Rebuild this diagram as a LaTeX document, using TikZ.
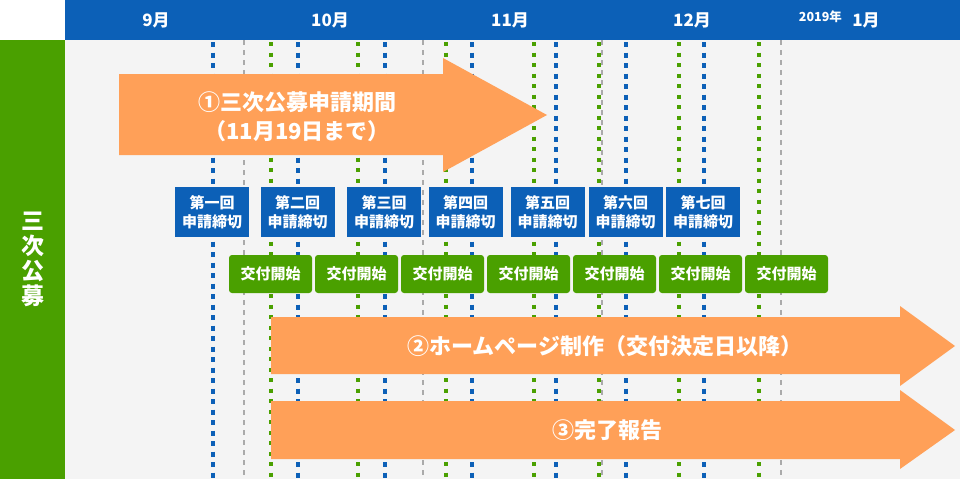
\documentclass[tikz,border=0pt]{standalone}
\usepackage{fontspec}
\newfontfamily\jp{Noto Sans CJK JP}
\usetikzlibrary{positioning}
\definecolor{hdblue}{RGB}{12,96,183}
\definecolor{stgreen}{RGB}{74,160,0}
\definecolor{arorange}{RGB}{255,160,88}
\definecolor{bggray}{RGB}{244,244,244}
\definecolor{lngray}{RGB}{170,170,170}
\tikzset{
  month/.style={text=white, inner sep=0pt, font=\jp\bfseries\fontsize{17}{20}\selectfont},
  deadline/.style={fill=hdblue, text=white, minimum width=74pt, minimum height=50pt, inner sep=0pt, align=center, font=\jp\bfseries\fontsize{15}{19}\selectfont},
  kofu/.style={fill=stgreen, text=white, rounded corners=3pt, minimum width=83pt, minimum height=38pt, inner sep=0pt, font=\jp\bfseries\fontsize{15}{18}\selectfont},
  bigarrow/.style={fill=arorange},
  arrowtext/.style={text=white, align=center, inner sep=0pt, font=\jp\bfseries\fontsize{22}{29}\selectfont},
  bluedots/.style={draw=hdblue, line width=4pt, dash pattern=on 5pt off 5.5pt},
  greendots/.style={draw=stgreen, line width=4pt, dash pattern=on 4pt off 6.5pt},
  monthline/.style={draw=lngray, line width=1.3pt, dash pattern=on 5pt off 5pt}
}
\begin{document}
\begin{tikzpicture}[x=1pt, y=-1pt]
\useasboundingbox (0,0) rectangle (960,479);
\fill[bggray] (65,40) rectangle (960,479);
\fill[hdblue] (65,0) rectangle (960,40);
\fill[stgreen] (0,40) rectangle (65,479);

\node[month] (m9) at (156,20) {9月};
\node[month] (m10) at (330,20) {10月};
\node[month] (m11) at (510,20) {11月};
\node[month] (m12) at (692,20) {12月};
\node[month] (m1) at (866,20) {1月};
\node[month, font=\jp\bfseries\fontsize{12.5}{15}\selectfont, left=10pt of m1, yshift=3pt] (y2019) {2019年};

\node[text=white, align=center, font=\jp\bfseries\fontsize{23}{25}\selectfont] (koubo) at (33,259) {三\\次\\公\\募};

\foreach \x in {244,423,602,781}
  \draw[monthline] (\x,40) -- (\x,479);
\foreach \x in {213,298,385,472,556,626,704}
  \draw[bluedots] (\x,42) -- (\x,479);
\foreach \x in {271,358,446,534,599,679,759}
  \draw[greendots] (\x,42) -- (\x,479);

\fill[bigarrow] (119,74) -- (443,74) -- (443,58) -- (547,115) -- (443,172) -- (443,155) -- (119,155) -- cycle;
\fill[bigarrow] (271,317) -- (900,317) -- (900,306) -- (955,346) -- (900,386) -- (900,374) -- (271,374) -- cycle;
\fill[bigarrow] (271,401) -- (900,401) -- (900,390) -- (955,430) -- (900,469) -- (900,459) -- (271,459) -- cycle;
\node[arrowtext] (kikan) at (297,117) {①三次公募申請期間\\（11月19日まで）};
\node[arrowtext] (hp) at (605,346) {②ホームページ制作（交付決定日以降）};
\node[arrowtext] (hokoku) at (607,430) {③完了報告};

\foreach \x/\n [count=\i] in {212/一,297.5/二,384/三,465.5/四,547.5/五,625.5/六,703/七}
  \node[deadline] (shime\i) at (\x,212) {第\n{}回\\申請締切};
\foreach \x [count=\i] in {270.5,356.5,442.5,528.5,614.5,700.5,786.5}
  \node[kofu] (kofu\i) at (\x,274) {交付開始};
\end{tikzpicture}
\end{document}
